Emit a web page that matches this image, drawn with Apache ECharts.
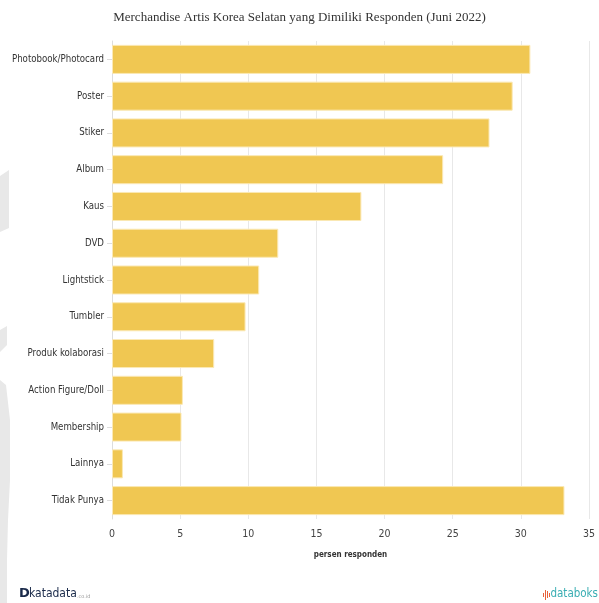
<!DOCTYPE html>
<html><head><meta charset="utf-8">
<script src="https://cdn.jsdelivr.net/npm/echarts@6/dist/echarts.min.js"></script>
<style>html,body{margin:0;padding:0;background:#fff}#c{width:599px;height:603px}</style>
</head><body><div id="c"></div>
<script>
var categories = ["Photobook/Photocard","Poster","Stiker","Album","Kaus","DVD","Lightstick","Tumbler","Produk kolaborasi","Action Figure/Doll","Membership","Lainnya","Tidak Punya"];
var values = [30.7, 29.4, 27.7, 24.3, 18.3, 12.2, 10.8, 9.8, 7.5, 5.2, 5.1, 0.8, 33.2];
var titleText = "Merchandise Artis Korea Selatan yang Dimiliki Responden (Juni 2022)";
var axisName = "persen responden";

var labelFont = "'DejaVu Sans Condensed', 'DejaVu Sans', sans-serif";
var chart = echarts.init(document.getElementById('c'));
chart.setOption({
  animation: false,
  title: {text: titleText, left: 'center', top: 6,
    textStyle: {fontFamily: 'Liberation Serif', fontSize: 13, fontWeight: 'normal', color: '#333'}},
  grid: {left: 112, right: 10, top: 41, bottom: 84, containLabel: false},
  xAxis: {type: 'value', min: 0, max: 35, interval: 5,
    name: axisName, nameLocation: 'middle', nameGap: 32,
    nameTextStyle: {fontFamily: labelFont, fontSize: 8, fontWeight: 'bold', color: '#333'},
    axisLine: {show: false}, axisTick: {show: false},
    axisLabel: {fontFamily: labelFont, fontSize: 10.5, color: '#444', margin: 10},
    splitLine: {show: true, lineStyle: {color: '#e8e8e8'}}},
  yAxis: {type: 'category', data: categories, inverse: true,
    axisLine: {show: true, lineStyle: {color: '#ddd'}},
    axisTick: {show: true, alignWithLabel: true, length: 5, lineStyle: {color: '#ddd'}},
    axisLabel: {fontFamily: labelFont, fontSize: 9.6, color: '#333', margin: 8}},
  series: [{type: 'bar', data: values, barCategoryGap: '21%',
    itemStyle: {color: '#f0c752', borderColor: '#fbe9b5', borderWidth: 1}}],
  graphic: [
    {type: 'polygon', z: -10, shape: {points: [[0,176],[9,170],[9,228],[0,232]]}, style: {fill: '#e8e8e8'}},
    {type: 'polygon', z: -10, shape: {points: [[0,330],[7,326],[7,345],[0,352]]}, style: {fill: '#e8e8e8'}},
    {type: 'polygon', z: -10, shape: {points: [[0,380],[6,385],[10,420],[10,480],[8,520],[7,560],[7,603],[0,603]]}, style: {fill: '#e8e8e8'}},
    {type: 'text', left: 19, top: 587, style: {text: 'D', fontFamily: 'DejaVu Sans', fontWeight: 'bold', fontSize: 13, fill: '#1a2a4a'}},
    {type: 'text', left: 29, top: 588, style: {text: 'katadata', fontFamily: labelFont, fontSize: 12, fill: '#1a2a4a'}},
    {type: 'text', left: 77, top: 594, style: {text: '.co.id', fontFamily: 'DejaVu Sans', fontSize: 5, fill: '#999'}},
    {type: 'text', right: 1, top: 588, style: {text: 'databoks', fontFamily: labelFont, fontSize: 11.5, fill: '#3aaeb3'}},
    {type: 'rect', shape: {x: 543, y: 593, width: 1, height: 4}, style: {fill: '#e8613a'}},
    {type: 'rect', shape: {x: 545, y: 590, width: 1, height: 10}, style: {fill: '#e8613a'}},
    {type: 'rect', shape: {x: 547, y: 591, width: 1, height: 7}, style: {fill: '#e8613a'}},
    {type: 'rect', shape: {x: 549, y: 593, width: 1, height: 4}, style: {fill: '#e8613a'}}
  ]
});
</script></body></html>
